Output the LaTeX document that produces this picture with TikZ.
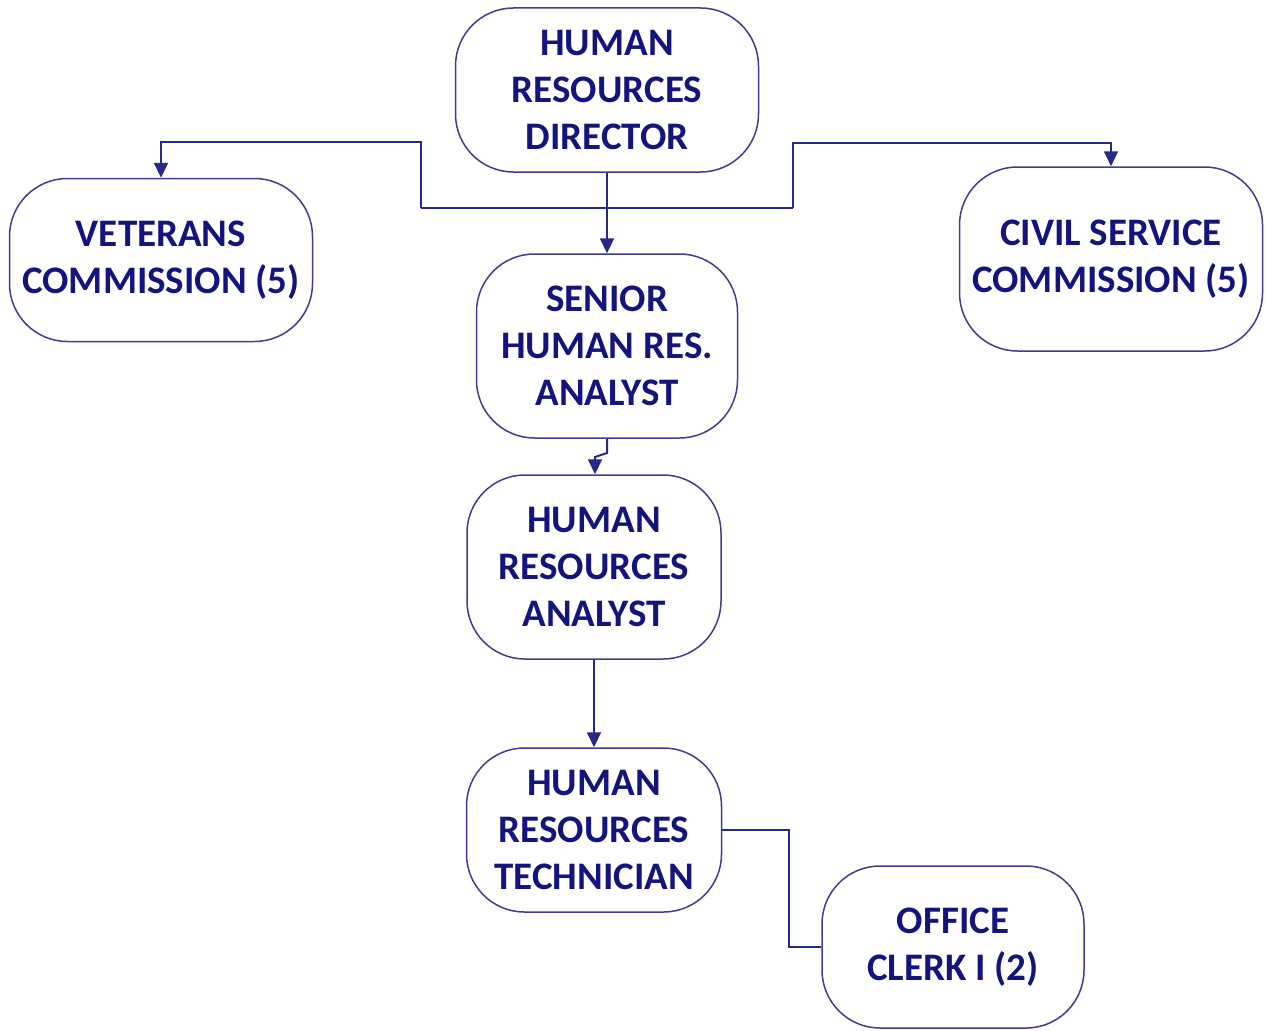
\documentclass[tikz,border=0pt]{standalone}
\usepackage{fontspec}
\setmainfont{Carlito}
\usetikzlibrary{arrows.meta}
\definecolor{boxline}{RGB}{62,62,140}
\definecolor{boxtext}{RGB}{20,20,125}
\definecolor{wire}{RGB}{40,40,135}
\tikzset{
  post/.style={draw=boxline, line width=1.5pt, rounded corners=58pt,
    fill=white, align=center, text=boxtext,
    font=\fontsize{39}{47}\selectfont\bfseries, inner sep=0pt},
  wireline/.style={draw=wire, line width=2pt},
  wirearrow/.style={wireline, -{Triangle[length=15pt,width=14pt]}}
}
\begin{document}
\begin{tikzpicture}[x=1pt,y=-1pt]
\useasboundingbox (0,0) rectangle (1265,1030);
\fill[white] (0,0) rectangle (1265,1030);

\node[post, minimum width=303pt, minimum height=164pt] (dir) at (607,90) {HUMAN\\RESOURCES\\DIRECTOR};
\node[post, minimum width=303pt, minimum height=163pt] (vet) at (161,260) {VETERANS\\COMMISSION (5)};
\node[post, minimum width=303pt, minimum height=184pt] (civ) at (1111,259) {CIVIL SERVICE\\COMMISSION (5)};
\node[post, minimum width=261pt, minimum height=184pt] (sen) at (607,346) {SENIOR\\HUMAN RES.\\ANALYST};
\node[post, minimum width=254pt, minimum height=184pt] (ana) at (594,567) {HUMAN\\RESOURCES\\ANALYST};
\node[post, minimum width=255pt, minimum height=164pt] (tec) at (594,830) {HUMAN\\RESOURCES\\TECHNICIAN};
\node[post, minimum width=262pt, minimum height=162pt] (clk) at (953,947) {OFFICE\\CLERK I (2)};

% branch points of the director's line
\coordinate (jl) at (421,208);
\coordinate (jr) at (793,208);

\draw[wireline] (jl) -- (jr);
\draw[wirearrow] (dir.south) -- (sen.north);
\draw[wirearrow] (jl) -- (421,142) -| (vet.north);
\draw[wirearrow] (jr) -- (793,143) -| (civ.north);
\draw[wirearrow] (sen.south) -- (607,453) -- (595,457) -- (ana.north -| 595,0);
\draw[wirearrow] (ana.south) -- (tec.north);
\draw[wireline] (tec.east) -- (789,830) |- (clk.west);
\end{tikzpicture}
\end{document}
